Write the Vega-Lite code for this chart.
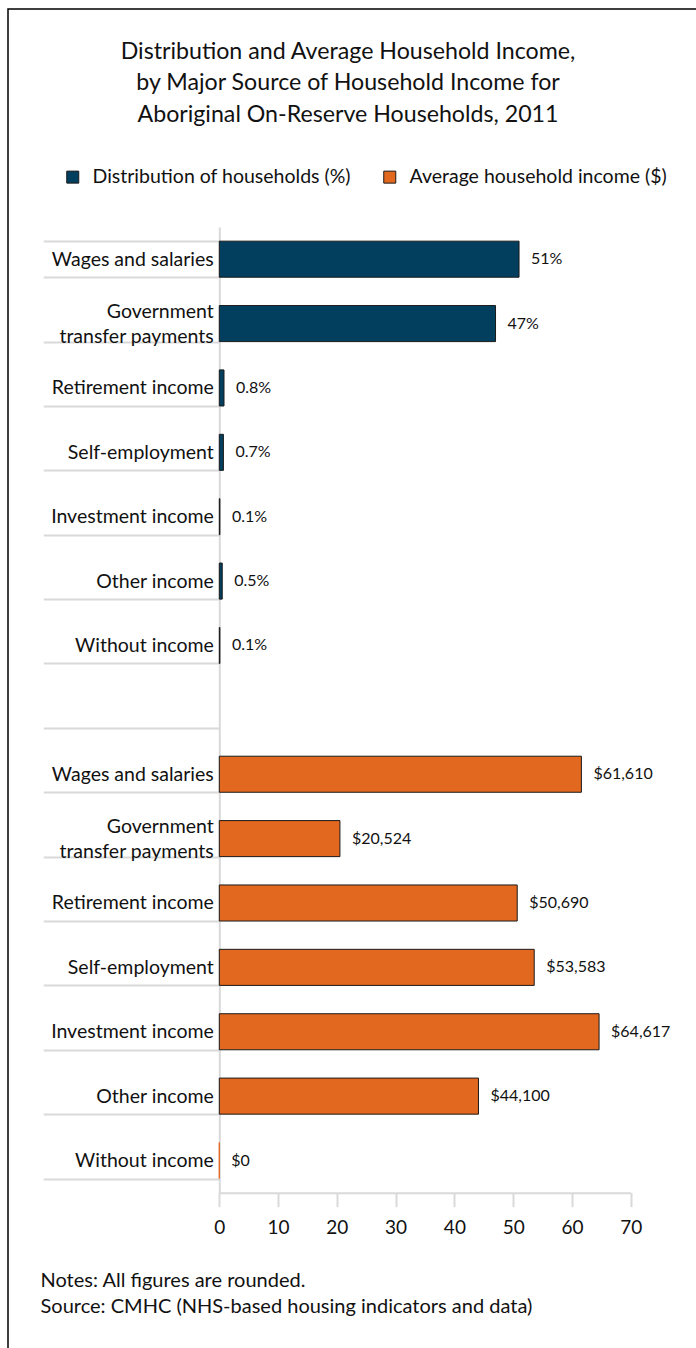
{
  "$schema": "https://vega.github.io/schema/vega-lite/v6.json",
  "autosize": {"type": "none"},
  "width": 700,
  "height": 1345,
  "padding": {"left": 8, "top": 9, "right": 0, "bottom": 0},
  "background": "white",
  "title": {
    "text": ["Distribution and Average Household Income,", "by Major Source of Household Income for", "Aboriginal On-Reserve Households, 2011"],
    "font": "Lato", "fontSize": 23.2, "fontWeight": "normal", "color": "#111",
    "anchor": "middle", "frame": "group", "orient": "top", "offset": -128, "lineHeight": 31.5, "dx": -10
  },
  "config": {
    "view": {"stroke": "#000", "strokeWidth": 1.5},
    "font": "Lato"
  },
  "data": {
    "values": [
      {"row": "Wages and salaries (%)", "series": "Distribution of households (%)", "value": 51, "label": "51%"},
      {"row": "Government transfer payments (%)", "series": "Distribution of households (%)", "value": 47, "label": "47%"},
      {"row": "Retirement income (%)", "series": "Distribution of households (%)", "value": 0.8, "label": "0.8%"},
      {"row": "Self-employment (%)", "series": "Distribution of households (%)", "value": 0.7, "label": "0.7%"},
      {"row": "Investment income (%)", "series": "Distribution of households (%)", "value": 0.1, "label": "0.1%"},
      {"row": "Other income (%)", "series": "Distribution of households (%)", "value": 0.5, "label": "0.5%"},
      {"row": "Without income (%)", "series": "Distribution of households (%)", "value": 0.1, "label": "0.1%"},
      {"row": "Wages and salaries ($)", "series": "Average household income ($)", "value": 61.61, "label": "$61,610"},
      {"row": "Government transfer payments ($)", "series": "Average household income ($)", "value": 20.524, "label": "$20,524"},
      {"row": "Retirement income ($)", "series": "Average household income ($)", "value": 50.69, "label": "$50,690"},
      {"row": "Self-employment ($)", "series": "Average household income ($)", "value": 53.583, "label": "$53,583"},
      {"row": "Investment income ($)", "series": "Average household income ($)", "value": 64.617, "label": "$64,617"},
      {"row": "Other income ($)", "series": "Average household income ($)", "value": 44.1, "label": "$44,100"},
      {"row": "Without income ($)", "series": "Average household income ($)", "value": 0, "label": "$0"}
    ]
  },
  "encoding": {
    "y": {
      "field": "row", "type": "nominal", "sort": null,
      "scale": {
        "domain": ["Wages and salaries (%)", "Government transfer payments (%)", "Retirement income (%)", "Self-employment (%)", "Investment income (%)", "Other income (%)", "Without income (%)", "gap", "Wages and salaries ($)", "Government transfer payments ($)", "Retirement income ($)", "Self-employment ($)", "Investment income ($)", "Other income ($)", "Without income ($)"],
        "range": [218, 1183.7], "paddingInner": 0.44, "paddingOuter": 0.22
      },
      "axis": {
        "title": null, "orient": "left", "offset": -211.3,
        "domainColor": "#d9d9d9", "domainWidth": 2,
        "tickColor": "#d9d9d9", "tickWidth": 2, "tickSize": 176, "tickBand": "extent",
        "labelPadding": -170, "labelFont": "Lato", "labelFontSize": 19.5, "labelColor": "#111",
        "labelLimit": 300, "labelLineHeight": 25,
        "labelOffset": {"condition": {"test": "isString(datum.value) && indexof(datum.value, 'Government') == 0", "value": -12.5}, "value": 0},
        "labelExpr": "!isString(datum.value) || datum.value == 'gap' ? '' : (indexof(datum.value, 'Government') == 0 ? ['Government\u00a0', 'transfer payments'] : split(datum.value, ' (')[0])"
      }
    }
  },
  "layer": [
    {
      "mark": {"type": "bar", "strokeWidth": 1},
      "encoding": {
        "x": {
          "field": "value", "type": "quantitative",
          "scale": {"domain": [0, 70], "range": [211.3, 622.7], "nice": false},
          "axis": {
            "orient": "bottom", "offset": -161.3, "values": [0, 10, 20, 30, 40, 50, 60, 70], "grid": false,
            "domainColor": "#d9d9d9", "domainWidth": 2,
            "tickColor": "#d9d9d9", "tickWidth": 2, "tickSize": 14,
            "labelFont": "Lato", "labelFontSize": 19, "labelColor": "#111", "labelPadding": 12, "labelFlush": false,
            "title": ["Notes: All figures are rounded.", "Source: CMHC (NHS-based housing indicators and data)"],
            "titleFont": "Lato", "titleFontSize": 20, "titleFontWeight": "normal", "titleColor": "#111",
            "titleAlign": "left", "titleAnchor": "start", "titleBaseline": "top",
            "titleX": 32, "titleY": 78, "titleLineHeight": 26
          }
        },
        "color": {
          "field": "series", "type": "nominal",
          "scale": {"domain": ["Distribution of households (%)", "Average household income ($)"], "range": ["#023f5f", "#e3681f"]},
          "legend": {
            "orient": "none", "legendX": 55, "legendY": 158, "direction": "horizontal", "columns": 2,
            "title": null, "symbolType": "square", "symbolSize": 144,
            "symbolStrokeColor": "#1a1a1a", "symbolStrokeWidth": 1,
            "labelFont": "Lato", "labelFontSize": 19.5, "labelColor": "#111", "labelOffset": 10,
            "columnPadding": 29, "labelLimit": 400, "padding": 0
          }
        },
        "stroke": {
          "condition": {"test": "datum.value == 0", "value": "#e3681f"},
          "value": "#1a1a1a"
        }
      }
    },
    {
      "mark": {"type": "text", "align": "left", "baseline": "middle", "dx": 12, "font": "Lato", "fontSize": 16, "color": "#111"},
      "encoding": {
        "x": {"field": "value", "type": "quantitative"},
        "text": {"field": "label", "type": "nominal"}
      }
    }
  ]
}
